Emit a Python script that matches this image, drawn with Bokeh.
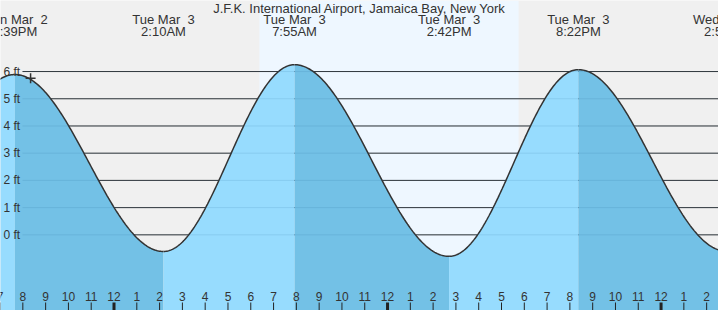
import numpy as np
from bokeh.plotting import figure
from bokeh.models import Range1d, Label
from bokeh.core.properties import value
from bokeh.embed import file_html
from bokeh.resources import INLINE

# ---- data (hours counted from Mon Mar 2, 00:00) ----
title_text = "J.F.K. International Airport, Jamaica Bay, New York"
tide_hours = [13.40, 19.65, 26.17, 31.92, 38.70, 44.37, 50.87]
tide_ft = [-0.45, 5.89, -0.61, 6.25, -0.79, 6.07, -0.60]
tide_days = ["", "Mon Mar \u00a02", "Tue Mar \u00a03", "Tue Mar \u00a03", "Tue Mar \u00a03",
             "Tue Mar \u00a03", "Wed Mar \u00a04"]
tide_clock = ["", "7:39PM", "2:10AM", "7:55AM", "2:42PM", "8:22PM", "2:52AM"]
sunrise_hour = 30.38
sunset_hour = 41.75
ft_levels = [0, 1, 2, 3, 4, 5, 6]
ft_labels = ["0 ft", "1 ft", "2 ft", "3 ft", "4 ft", "5 ft", "6 ft"]
tick_hours = list(range(19, 51))
tick_labels = [str(h % 12 if h % 12 else 12) for h in tick_hours]
now_hour = 20.34
now_ft = 5.75

# ---- view ----
W, H = 718, 310
X0, X1 = 19.02, 50.52
Y0, Y1 = -2.78, 8.61
PPH = W / (X1 - X0)
PPF = H / (Y1 - Y0)

def py(px):
    return Y1 - px / PPF

FONT_NAME = "Liberation Sans"
FONT = value(FONT_NAME)
TXT = "#333333"

p = figure(width=W, height=H, x_range=Range1d(X0, X1), y_range=Range1d(Y0, Y1),
           x_axis_location=None, y_axis_location=None, toolbar_location=None,
           output_backend="svg", min_border=0)
p.grid.visible = False
p.outline_line_color = None
p.background_fill_color = "#f0f0f0"
p.border_fill_color = "#f0f0f0"

# daylight band
p.quad(left=[sunrise_hour], right=[sunset_hour], bottom=[Y0], top=[Y1],
       fill_color="#eef7ff", line_color=None)

# grid lines
gx0 = X0 + 22 / PPH
p.segment(x0=[gx0] * len(ft_levels), x1=[X1] * len(ft_levels), y0=ft_levels, y1=ft_levels,
          line_color="#333333", line_width=1)

# tide curve (cosine between successive high/low predictions)
for i in range(len(tide_hours) - 1):
    t0, t1 = tide_hours[i], tide_hours[i + 1]
    h0, h1 = tide_ft[i], tide_ft[i + 1]
    t = np.linspace(t0, t1, 120)
    h = h0 + (h1 - h0) * (1 - np.cos(np.pi * (t - t0) / (t1 - t0))) / 2
    col = "#97dcfe" if h1 > h0 else "#73c1e6"
    p.varea(x=t, y1=Y0, y2=h, fill_color=col)
    p.line(t, h, line_color="#333333", line_width=1.5)

# grid lines showing faintly through the water
p.segment(x0=[gx0] * len(ft_levels), x1=[X1] * len(ft_levels), y0=ft_levels, y1=ft_levels,
          line_color="#1f5f8a", line_alpha=0.13, line_width=1)

# y labels
for lv, lb in zip(ft_levels, ft_labels):
    p.add_layout(Label(x=3, x_units="screen", y=lv, text=lb, text_baseline="middle",
                       text_font=FONT_NAME, text_font_size="12px", text_color=TXT))

# title and event labels
p.add_layout(Label(x=W / 2, x_units="screen", y=py(8), text=title_text, text_align="center",
                   text_baseline="middle", text_font=FONT_NAME, text_font_size="13px",
                   text_color=TXT))
p.text(x=tide_hours[1:], y=[py(19)] * (len(tide_hours) - 1), text=tide_days[1:],
       text_align="center", text_baseline="middle", text_font=FONT,
       text_font_size="13px", text_color=TXT)
p.text(x=tide_hours[1:], y=[py(31)] * (len(tide_hours) - 1), text=tide_clock[1:],
       text_align="center", text_baseline="middle", text_font=FONT,
       text_font_size="13px", text_color=TXT)

# hour labels and ticks
p.text(x=tick_hours, y=[py(296)] * len(tick_hours), text=tick_labels,
       text_align="center", text_baseline="middle", text_font=FONT,
       text_font_size="12px", text_color=TXT)
widths = [3 if lb == "12" else 1 for lb in tick_labels]
p.segment(x0=tick_hours, x1=tick_hours, y0=[py(302)] * len(tick_hours), y1=[Y0] * len(tick_hours),
          line_color="#222222", line_width=widths)

# current-time marker
p.scatter([now_hour], [now_ft], marker="cross", size=10, line_color="#333333", line_width=1.5)

open("out.html", "w").write(file_html(p, INLINE))
